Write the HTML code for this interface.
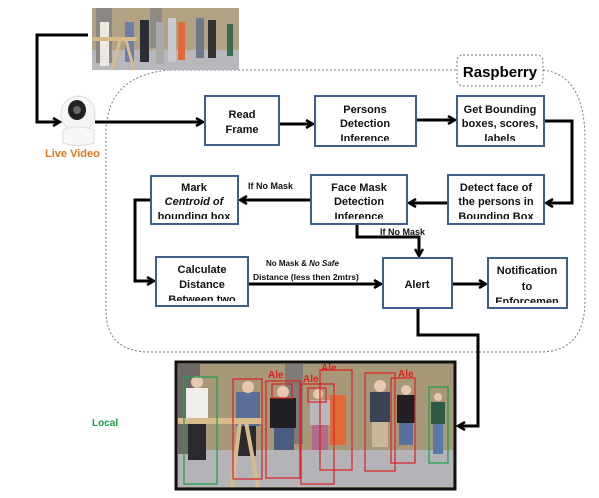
<!DOCTYPE html>
<html><head><style>
body{margin:0;background:#fff;}
svg{display:block;font-family:"Liberation Sans",sans-serif;}
</style></head><body>
<svg width="599" height="498" viewBox="0 0 599 498" xmlns="http://www.w3.org/2000/svg">
<defs>
<marker id="ah" markerWidth="10" markerHeight="10" refX="8" refY="5" orient="auto" markerUnits="userSpaceOnUse">
<path d="M1,1 L8,5 L1,9" fill="none" stroke="#000" stroke-width="2.5"/>
</marker>
</defs>
<path d="M170,70 L457,70 M543,70 Q585,75 585,140 L585,300 Q585,352 540,352 L150,352 Q106,352 106,310 L106,130 Q108,75 170,70" fill="none" stroke="#777" stroke-width="1" stroke-dasharray="2,2"/>
<rect x="457" y="55" width="86" height="31" rx="6" fill="#fff" stroke="#777" stroke-dasharray="2,2"/>
<text x="500" y="77" font-size="15" font-weight="bold" text-anchor="middle">Raspberry</text>

<!-- top photo -->
<rect x="92" y="8" width="147" height="62" fill="#b0a282"/>
<rect x="92" y="50" width="147" height="20" fill="#b8b8bc"/>
<rect x="96" y="8" width="16" height="55" fill="#8a8884"/>
<rect x="150" y="8" width="12" height="40" fill="#8e8a84"/>
<g>
<rect x="100" y="22" width="9" height="44" fill="#ece8e2"/><rect x="125" y="22" width="9" height="40" fill="#6c7fa8"/><rect x="140" y="20" width="9" height="42" fill="#2c2c34"/><rect x="156" y="22" width="8" height="42" fill="#aaa"/><rect x="168" y="18" width="8" height="44" fill="#c9c9d0"/><rect x="178" y="22" width="7" height="38" fill="#e06a3a"/><rect x="196" y="18" width="8" height="40" fill="#6e7a8a"/><rect x="208" y="20" width="8" height="38" fill="#333"/><rect x="227" y="24" width="6" height="32" fill="#3a6a50"/>
</g>
<rect x="92" y="37" width="45" height="4" fill="#d8bb8a"/>
<line x1="120" y1="40" x2="112" y2="70" stroke="#d8bb8a" stroke-width="3"/>
<line x1="126" y1="40" x2="134" y2="70" stroke="#d8bb8a" stroke-width="3"/>

<!-- camera -->
<ellipse cx="78" cy="114" rx="17" ry="18" fill="#f6f6f6" stroke="#ddd"/>
<ellipse cx="77" cy="110" rx="9" ry="10" fill="#222"/>
<circle cx="77" cy="110" r="4" fill="#666"/>
<path d="M63,130 Q78,124 94,130 L94,143 Q78,148 63,143 Z" fill="#f8f8f8" stroke="#ddd"/>
<text x="45" y="157" font-size="11" font-weight="bold" fill="#e07a1a">Live Video</text>

<g fill="none" stroke="#000" stroke-width="3">
<polyline points="88,35 37,35 37,122 60,122" marker-end="url(#ah)"/>
<line x1="95" y1="122" x2="203" y2="122" marker-end="url(#ah)"/>
<line x1="279" y1="124" x2="313" y2="124" marker-end="url(#ah)"/>
<line x1="416" y1="120" x2="455" y2="120" marker-end="url(#ah)"/>
<polyline points="544,121 572,121 572,203 546,203" marker-end="url(#ah)"/>
<line x1="448" y1="203" x2="409" y2="203" marker-end="url(#ah)"/>
<line x1="311" y1="200" x2="240" y2="200" marker-end="url(#ah)"/>
<polyline points="151,200 135,200 135,281 154,281" marker-end="url(#ah)"/>
<polyline points="357,224 357,237 419,237 419,256" marker-end="url(#ah)"/>
<line x1="248" y1="284" x2="381" y2="284" marker-end="url(#ah)"/>
<line x1="452" y1="284" x2="486" y2="284" marker-end="url(#ah)"/>
<polyline points="418,308 418,335 478,335 478,426 458,426" marker-end="url(#ah)"/>
</g>

<g fill="#fff" stroke="#3e5f8a" stroke-width="2">
<rect x="205" y="96" width="74" height="49"/>
<rect x="315" y="96" width="101" height="50"/>
<rect x="457" y="96" width="87" height="50"/>
<rect x="448" y="175" width="96" height="49"/>
<rect x="311" y="175" width="96" height="49"/>
<rect x="151" y="176" width="87" height="48"/>
<rect x="156" y="257" width="92" height="49"/>
<rect x="383" y="258" width="69" height="50"/>
<rect x="488" y="258" width="79" height="50"/>
</g>
<g font-size="11" font-weight="bold" text-anchor="middle" fill="#111">
<text x="242" y="118">Read</text><text x="242" y="133">Frame</text>
<text x="365" y="113">Persons</text><text x="365" y="127">Detection</text><text x="365" y="142">Inference</text>
<text x="500" y="113">Get Bounding</text><text x="500" y="127">boxes, scores,</text><text x="500" y="142">labels</text>
<text x="496" y="191">Detect face of</text><text x="496" y="205">the persons in</text><text x="496" y="220">Bounding Box</text>
<text x="359" y="191">Face Mask</text><text x="359" y="205">Detection</text><text x="359" y="220">Inference</text>
<text x="194" y="191">Mark</text><text x="194" y="205" font-style="italic">Centroid of</text><text x="194" y="220">bounding box</text>
<text x="202" y="273">Calculate</text><text x="202" y="288">Distance</text><text x="202" y="303">Between two</text>
<text x="417" y="288">Alert</text>
<text x="527" y="274">Notification</text><text x="527" y="290">to</text><text x="527" y="305">Enforcemen</text>
</g>
<g fill="#fff">
<rect x="316" y="141" width="99" height="4"/><rect x="458" y="141" width="85" height="4"/>
<rect x="449" y="219" width="94" height="4"/><rect x="312" y="219" width="94" height="4"/>
<rect x="152" y="219" width="85" height="4"/><rect x="157" y="301" width="90" height="4"/>
<rect x="489" y="303" width="77" height="4"/>
</g>
<g font-size="9" font-weight="bold" fill="#111">
<text x="248" y="189">If No Mask</text>
<text x="380" y="235">If No Mask</text>
<text x="266" y="266" font-size="8">No Mask &amp; <tspan font-style="italic">No Safe</tspan></text>
<text x="253" y="280" font-size="8.5">Distance (less then  2mtrs)</text>
</g>

<!-- bottom photo -->
<rect x="176" y="362" width="279" height="127" fill="#a8987a" stroke="#111" stroke-width="3"/>
<rect x="178" y="450" width="275" height="37" fill="#b4b4b8"/>
<rect x="178" y="364" width="22" height="90" fill="#6d6a66"/>
<rect x="285" y="364" width="18" height="80" fill="#7f7b76"/>
<rect x="186" y="388" width="22" height="32" fill="#f0eeea"/><rect x="188" y="420" width="18" height="40" fill="#2a2a2e"/>
<rect x="236" y="392" width="24" height="34" fill="#5a6e98"/><rect x="238" y="426" width="18" height="30" fill="#2a2a2e"/>
<rect x="270" y="398" width="26" height="30" fill="#202024"/><rect x="274" y="428" width="20" height="22" fill="#4a5c80"/>
<rect x="310" y="400" width="20" height="25" fill="#b8b8c0"/><rect x="312" y="425" width="16" height="25" fill="#b06a8a"/>
<rect x="330" y="395" width="16" height="50" fill="#e06a3a"/>
<rect x="370" y="392" width="20" height="30" fill="#3a4458"/><rect x="372" y="422" width="16" height="25" fill="#c8b898"/>
<rect x="397" y="395" width="18" height="28" fill="#202024"/><rect x="399" y="423" width="14" height="22" fill="#5a70a0"/>
<rect x="431" y="402" width="14" height="22" fill="#2d5a44"/><rect x="433" y="424" width="10" height="30" fill="#5a78a8"/>
<g fill="#e8c8b0"><circle cx="197" cy="382" r="6"/><circle cx="248" cy="387" r="6"/><circle cx="283" cy="392" r="6"/><circle cx="318" cy="394" r="5"/><circle cx="380" cy="386" r="6"/><circle cx="406" cy="390" r="5"/><circle cx="438" cy="397" r="4"/></g>
<rect x="178" y="418" width="85" height="6" fill="#d8bb8a"/>
<line x1="240" y1="422" x2="232" y2="487" stroke="#d8bb8a" stroke-width="4"/>
<line x1="246" y1="422" x2="258" y2="487" stroke="#d8bb8a" stroke-width="4"/>
<g fill="none" stroke-width="1.2">
<rect x="184" y="377" width="33" height="107" stroke="#1aa04a"/>
<rect x="429" y="387" width="19" height="76" stroke="#1aa04a"/>
<rect x="233" y="379" width="29" height="100" stroke="#e02020"/>
<rect x="266" y="381" width="34" height="97" stroke="#e02020"/>
<rect x="301" y="384" width="33" height="100" stroke="#e02020"/>
<rect x="320" y="370" width="32" height="100" stroke="#e02020"/>
<rect x="365" y="373" width="30" height="98" stroke="#e02020"/>
<rect x="391" y="378" width="24" height="85" stroke="#e02020"/>
<rect x="272" y="384" width="20" height="14" stroke="#e02020"/>
<rect x="308" y="388" width="18" height="14" stroke="#e02020"/>
</g>
<g font-size="10" font-weight="bold" fill="#e02020">
<text x="268" y="378">Ale</text><text x="303" y="382">Ale</text><text x="321" y="371">Ale</text><text x="398" y="377">Ale</text>
</g>
<text x="92" y="426" font-size="10" font-weight="bold" fill="#1aa04a">Local</text>
</svg>
</body></html>
